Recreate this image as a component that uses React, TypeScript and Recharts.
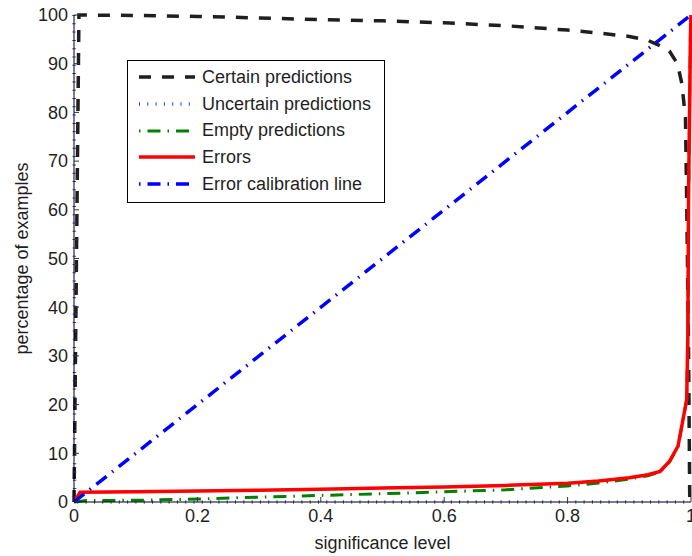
import { Label, Legend, Line, LineChart, XAxis, YAxis } from "recharts";

// significance level values and percentages
const certainX = [0, 0.008, 0.1, 0.2, 0.3, 0.4, 0.5, 0.6, 0.7, 0.8, 0.85, 0.9, 0.93, 0.95, 0.965, 0.978, 0.985, 0.991, 0.993, 0.996, 0.998, 1];
const certainY = [0, 100, 99.9, 99.7, 99.4, 99.05, 98.8, 98.4, 97.8, 96.9, 96.3, 95.6, 94.8, 93.7, 92.6, 90, 86, 79, 62, 32, 0, 0];

const uncertainX = [0, 0.001, 1];
const uncertainY = [100, 0, 0];

const emptyX = [0, 0.02, 0.1, 0.2, 0.3, 0.4, 0.5, 0.6, 0.7, 0.8, 0.85, 0.9, 0.93, 0.95, 0.965, 0.979, 0.993, 0.995, 0.996, 0.999, 1];
const emptyY = [0, 0.3, 0.35, 0.6, 1.0, 1.35, 1.7, 2.1, 2.5, 3.3, 3.9, 4.7, 5.4, 6.2, 8.2, 11.4, 21, 35, 62, 95, 100];

const errorX = [0, 0.01, 0.1, 0.2, 0.3, 0.4, 0.5, 0.6, 0.7, 0.8, 0.85, 0.9, 0.93, 0.95, 0.965, 0.979, 0.993, 0.995, 0.996, 0.999, 1];
const errorY = [0, 2.0, 2.1, 2.25, 2.4, 2.6, 2.85, 3.1, 3.4, 3.85, 4.3, 5.0, 5.6, 6.3, 8.3, 11.5, 21, 35, 62, 95, 100];

const calibrationX = [0, 1];
const calibrationY = [0, 100];

const xTicks = [0, 0.2, 0.4, 0.6, 0.8, 1];
const yTicks = [0, 10, 20, 30, 40, 50, 60, 70, 80, 90, 100];

const seriesNames = [
  "Certain predictions",
  "Uncertain predictions",
  "Empty predictions",
  "Errors",
  "Error calibration line",
];

const zip = (xs: number[], ys: number[]) => xs.map((x, i) => ({ x, y: ys[i] }));

const FONT = "'Liberation Sans', Arial, sans-serif";
const TEXT = "#1f1f1f";

const styles = [
  { stroke: "#1f1f1f", width: 3.5, dash: "12 11", offset: 0 },
  { stroke: "#3a3aff", width: 3.5, dash: "1 7.3", offset: 0 },
  { stroke: "#008000", width: 3, dash: "13 7 1.5 7", offset: 20 },
  { stroke: "#ff0000", width: 3.5, dash: undefined, offset: 0 },
  { stroke: "#0000ff", width: 3.5, dash: "13 7 1.5 7", offset: 20 },
];

const seriesData = [
  zip(certainX, certainY),
  zip(uncertainX, uncertainY),
  zip(emptyX, emptyY),
  zip(errorX, errorY),
  zip(calibrationX, calibrationY),
];

function LegendBox() {
  return (
    <div
      style={{
        border: "1px solid #000",
        background: "#fff",
        width: 256,
        padding: "3px 0 5px 0",
        fontFamily: FONT,
        fontSize: 18,
        color: TEXT,
      }}
    >
      {seriesNames.map((name, i) => (
        <div key={name} style={{ display: "flex", alignItems: "center", height: 26.7 }}>
          <svg width={74} height={20} style={{ flex: "none" }}>
            <line
              x1={11}
              x2={67}
              y1={10}
              y2={10}
              stroke={styles[i].stroke}
              strokeWidth={styles[i].width}
              strokeDasharray={styles[i].dash}
              strokeDashoffset={styles[i].offset}
            />
          </svg>
          <span style={{ whiteSpace: "nowrap" }}>{name}</span>
        </div>
      ))}
    </div>
  );
}

export default function App() {
  const tickStyle = { fill: TEXT, fontSize: 18, fontFamily: FONT };
  return (
    <div style={{ position: "absolute", left: 0, top: 0, width: 692, height: 556, background: "#fff" }}>
      <LineChart width={692} height={556} margin={{ top: 15, right: 1, left: 0, bottom: 0 }}>
        <XAxis
          xAxisId="bottom"
          dataKey="x"
          type="number"
          domain={[0, 1]}
          ticks={xTicks}
          tickFormatter={(v: number) => `${v}`}
          height={54}
          tickSize={-5}
          tickMargin={12}
          tick={tickStyle}
          stroke="#000"
          tickLine={{ stroke: "#333" }}
          interval={0}
        >
          <Label value="significance level" position="center" dy={14} style={{ fill: TEXT, fontSize: 18, fontFamily: FONT }} />
        </XAxis>
        <XAxis
          xAxisId="top"
          orientation="top"
          dataKey="x"
          type="number"
          domain={[0, 1]}
          ticks={xTicks}
          height={0}
          tickSize={-5}
          tick={false}
          stroke="#000"
          tickLine={{ stroke: "#333" }}
          interval={0}
        />
        <YAxis
          yAxisId="left"
          type="number"
          domain={[0, 100]}
          ticks={yTicks}
          width={74}
          tickSize={-5}
          tickMargin={11}
          tick={tickStyle}
          stroke="#000"
          tickLine={{ stroke: "#333" }}
          interval={0}
        >
          <Label
            value="percentage of examples"
            angle={-90}
            position="center"
            dx={-15}
            style={{ fill: TEXT, fontSize: 18, fontFamily: FONT, textAnchor: "middle" }}
          />
        </YAxis>
        <YAxis
          yAxisId="right"
          orientation="right"
          type="number"
          domain={[0, 100]}
          ticks={yTicks}
          width={0}
          tickSize={-5}
          tick={false}
          stroke="#000"
          tickLine={{ stroke: "#333" }}
          interval={0}
        />
        {seriesData.map((d, i) => (
          <Line
            key={seriesNames[i]}
            xAxisId="bottom"
            yAxisId="left"
            data={d}
            dataKey="y"
            name={seriesNames[i]}
            type="linear"
            stroke={styles[i].stroke}
            strokeWidth={styles[i].width}
            strokeDasharray={styles[i].dash}
            dot={false}
            activeDot={false}
            isAnimationActive={false}
          />
        ))}
        <Legend
          layout="vertical"
          align="center"
          verticalAlign="middle"
          content={() => <LegendBox />}
          wrapperStyle={{ left: 127, top: 60, width: "auto", height: "auto" }}
        />
      </LineChart>
    </div>
  );
}
